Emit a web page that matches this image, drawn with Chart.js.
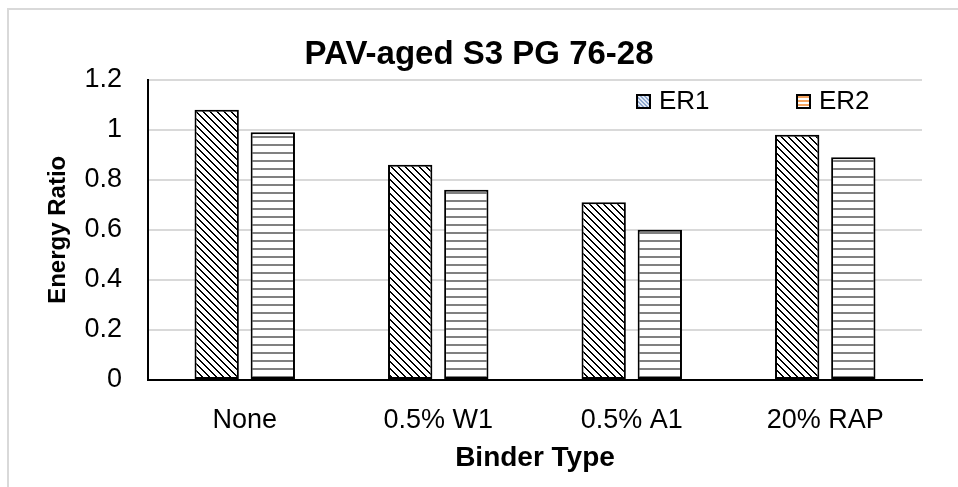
<!DOCTYPE html>
<html>
<head>
<meta charset="utf-8">
<title>PAV-aged S3 PG 76-28</title>
<script src="https://cdn.jsdelivr.net/npm/chart.js@4/dist/chart.umd.min.js"></script>
<style>
    html, body { margin: 0; padding: 0; background: #fff; }
    #chart_area { position: relative; width: 958px; height: 487px; }
</style>
</head>
<body>
<div id="chart_area"><canvas id="graph"></canvas></div>
<script>
var CHART   = null;

// x軸のバインダー種類
let binder_type     = ["None", "0.5% W1", "0.5% A1", "20% RAP"];

// エネルギー比
let er1             = [1.08, 0.86, 0.71, 0.98];
let er2             = [0.99, 0.76, 0.60, 0.89];

// y軸の目盛
let y_ticks         = [0, 0.2, 0.4, 0.6, 0.8, 1, 1.2];
let y_tick_labels   = ["0", "0.2", "0.4", "0.6", "0.8", "1", "1.2"];

let FONT    = "'Liberation Sans', Arial, sans-serif";


window.addEventListener("load", function(){
    draw_graph();
});


//タイル用の小さいcanvasを作ってパターンにする
function make_pattern(ctx, size, draw){
    let tile    = document.createElement("canvas");
    tile.width  = size;
    tile.height = size;
    let t       = tile.getContext("2d");
    draw(t, size);
    return ctx.createPattern(tile, "repeat");
}

//右下がりの斜線
function diagonal(t, size, color, bg){
    t.fillStyle = bg;
    t.fillRect(0, 0, size, size);
    t.fillStyle = color;
    for (let y=0;y<size;y++){
        for (let x=0;x<size;x++){
            let d = ((x - y) % size + size) % size;
            if (d == 0 || d == 1){
                t.fillRect(x, y, 1, 1);
            }
        }
    }
}

//横線
function horizontal(t, size, color, bg){
    t.fillStyle = bg;
    t.fillRect(0, 0, size, size);
    t.fillStyle = color;
    t.fillRect(0, 0, size, 2);
}


//グラフの外枠(上と左だけ見えている)
let frame_plugin = {
    id: "frame",
    beforeDraw: function(chart){
        let ctx = chart.ctx;
        ctx.save();
        ctx.fillStyle = "#fff";
        ctx.fillRect(0, 0, chart.width, chart.height);
        ctx.strokeStyle = "#d9d9d9";
        ctx.lineWidth = 2;
        ctx.beginPath();
        ctx.moveTo(8, chart.height);
        ctx.lineTo(8, 9);
        ctx.lineTo(chart.width, 9);
        ctx.stroke();
        ctx.restore();
    }
};

//凡例はプロットの中の右上に置く
let legend_plugin = {
    id: "legend_box",
    afterDraw: function(chart){
        let ctx     = chart.ctx;
        let items   = chart.options.plugins.legend_box.items;
        ctx.save();
        ctx.font = "26px " + FONT;
        ctx.textBaseline = "middle";
        ctx.textAlign = "left";
        for (let i=0;i<items.length;i++){
            let it  = items[i];
            let ds  = chart.data.datasets[i];
            ctx.fillStyle = it.fill;
            ctx.fillRect(it.x, it.y - 6, 13, 13);
            ctx.strokeStyle = "#000";
            ctx.lineWidth = 2;
            ctx.strokeRect(it.x, it.y - 6, 13, 13);
            ctx.fillStyle = "#000";
            ctx.fillText(ds.label, it.x + 22, it.y + 1);
        }
        ctx.restore();
    }
};


function draw_graph(){

    let ctx     = document.getElementById("graph").getContext("2d");

    let er1_fill    = make_pattern(ctx, 7, function(t, s){ diagonal(t, s, "#000", "#fff"); });
    let er2_fill    = make_pattern(ctx, 8, function(t, s){ horizontal(t, s, "#808080", "#fff"); });
    let er1_key     = make_pattern(ctx, 4, function(t, s){ diagonal(t, s, "#8fa9d0", "#e4ebf5"); });
    let er2_key     = make_pattern(ctx, 4, function(t, s){ horizontal(t, s, "#f4a460", "#fff"); });

    let data    = {
        labels: binder_type,
        datasets: [ {
            label: "ER1",
            data: er1,
            backgroundColor: er1_fill,
            borderColor: "#000",
            borderWidth: 2,
            borderSkipped: false,
            categoryPercentage: 0.58,
            barPercentage: 0.79
        }, {
            label: "ER2",
            data: er2,
            backgroundColor: er2_fill,
            borderColor: "#000",
            borderWidth: 2,
            borderSkipped: false,
            categoryPercentage: 0.58,
            barPercentage: 0.79
        } ]
    };

    let options = {
        responsive: true,
        maintainAspectRatio: false,
        animation: false,
        layout: {
            padding: 0
        },
        plugins: {
            legend: { display: false },
            tooltip: { enabled: false },
            title: {
                display: true,
                text: "PAV-aged S3 PG 76-28",
                color: "#000",
                font: { family: FONT, size: 33, weight: "bold" },
                padding: { top: 35, bottom: 5 }
            },
            legend_box: {
                items: [
                    { x: 637, y: 101, fill: er1_key },
                    { x: 797, y: 101, fill: er2_key }
                ]
            }
        },
        scales: {
            x: {
                grid: { display: false, drawTicks: false },
                border: { display: true, color: "#000", width: 2 },
                ticks: {
                    color: "#000",
                    font: { family: FONT, size: 27 },
                    padding: 24
                },
                title: {
                    display: true,
                    text: "Binder Type",
                    color: "#000",
                    font: { family: FONT, size: 28, weight: "bold" },
                    padding: { top: 0, bottom: 12 }
                },
                afterFit: function(scale){ scale.height = 107; }
            },
            y: {
                min: 0,
                max: 1.2,
                grid: { color: "#d9d9d9", lineWidth: 2, drawTicks: false },
                border: { display: true, color: "#000", width: 2 },
                ticks: {
                    color: "#000",
                    font: { family: FONT, size: 27 },
                    padding: 26,
                    callback: function(value, index){ return y_tick_labels[index]; }
                },
                afterBuildTicks: function(axis){
                    axis.ticks = y_ticks.map(function(v){ return { value: v }; });
                },
                title: {
                    display: true,
                    text: "Energy Ratio",
                    color: "#000",
                    font: { family: FONT, size: 24, weight: "bold" },
                    padding: { top: 44, bottom: 0 }
                },
                afterFit: function(scale){ scale.width = 148; }
            },
            //右側の余白を取るための空の軸(タイトルは全幅の中央のまま)
            right_space: {
                type: "linear",
                position: "right",
                grid: { display: false, drawTicks: false },
                border: { display: false },
                ticks: { display: false },
                afterFit: function(scale){ scale.width = 36; }
            }
        }
    };

    if (CHART) {
        CHART.destroy();
    }
    CHART   = new Chart(ctx, {
        type: "bar",
        data: data,
        options: options,
        plugins: [frame_plugin, legend_plugin]
    });
}
</script>
</body>
</html>
